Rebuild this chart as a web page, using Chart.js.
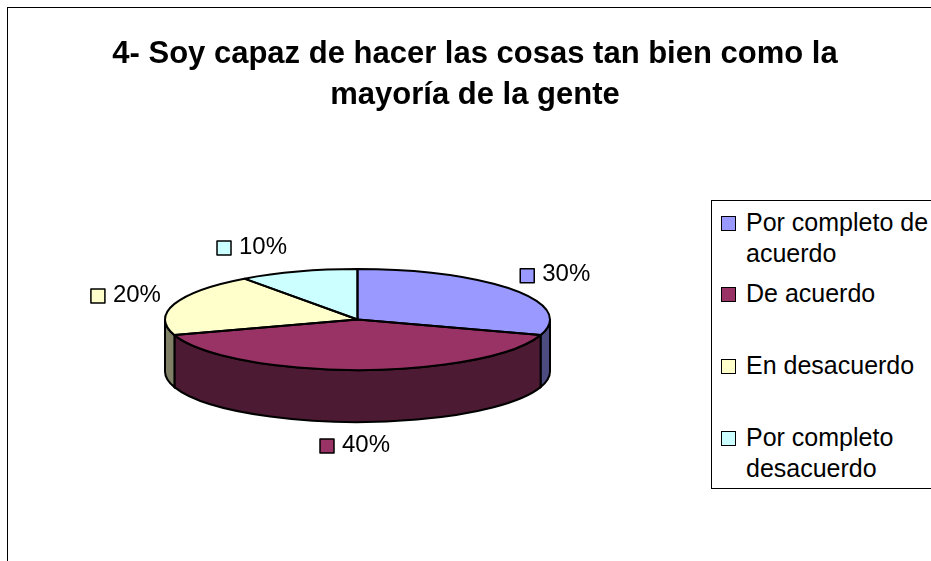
<!DOCTYPE html>
<html lang="es">
<head>
<meta charset="utf-8">
<title>4- Soy capaz de hacer las cosas tan bien como la mayoría de la gente</title>
<script src="https://cdn.jsdelivr.net/npm/chart.js@4"></script>
<style>
  html, body { margin: 0; background: #fff; overflow: hidden; }
  #wrap { position: relative; width: 931px; height: 561px; font-family: "Liberation Sans", Arial, sans-serif; color: #000; overflow: hidden; }
  #frame { position: absolute; left: 7px; top: 7px; width: 1000px; height: 700px; border: 1.5px solid #000; }
  #chart { position: absolute; left: 0; top: 0; }
  #title { position: absolute; left: 25px; width: 900px; top: 32px; text-align: center; font-size: 31px; font-weight: bold; line-height: 41px; }
  #legend { position: absolute; left: 711px; top: 200px; width: 240px; height: 287px; border: 1.5px solid #000; background: #fff; }
  .item { position: absolute; left: 34px; font-size: 25px; line-height: 31px; white-space: nowrap; }
  .sw { position: absolute; left: -25px; top: 9px; width: 14.5px; height: 14.5px; box-sizing: border-box; border: 1.5px solid #000; }
</style>
</head>
<body>
<div id="wrap">
  <div id="frame"></div>
  <canvas id="chart" width="931" height="561"></canvas>
  <div id="title">4- Soy capaz de hacer las cosas tan bien como la<br>mayoría de la gente</div>
  <div id="legend"></div>
</div>
<script>
const categories = ['Por completo de acuerdo', 'De acuerdo', 'En desacuerdo', 'Por completo desacuerdo'];
const legendLines = [['Por completo de', 'acuerdo'], ['De acuerdo'], ['En desacuerdo'], ['Por completo', 'desacuerdo']];
const values = [30, 40, 20, 10];
const colors = ['#9999ff', '#993366', '#ffffcc', '#ccffff'];
const sideColors = ['#4c4c80', '#4d1a33', '#808066', '#668080'];

const FLAT = 50.5 / 192.5;
const DEPTH = 52;
// label box offset from the rim point of each slice
const labelOffsets = [[7, -14], [-37.5, 24], [-83.5, -8], [-81, -23.5]];

// legend is plain html because of the wrapped names
const legendTops = [206, 277, 349, 421];
const legendEl = document.getElementById('legend');
legendLines.forEach((lines, i) => {
  const el = document.createElement('div');
  el.className = 'item';
  el.style.top = (legendTops[i] - 200) + 'px';
  el.innerHTML = `<span class="sw" style="background:${colors[i]}"></span>` + lines.join('<br>');
  legendEl.appendChild(el);
});

const pie3d = {
  id: 'pie3d',
  beforeDatasetsDraw(chart) {
    const ctx = chart.ctx;
    const arcs = chart.getDatasetMeta(0).data;
    ctx.save();
    ctx.strokeStyle = '#000';
    ctx.lineWidth = 2;
    arcs.forEach((arc, i) => {
      const { x, y, startAngle, endAngle, outerRadius } = arc.getProps(['x', 'y', 'startAngle', 'endAngle', 'outerRadius'], true);
      const a = Math.max(startAngle, 0);
      const b = Math.min(endAngle, Math.PI);
      if (b <= a) return;
      ctx.beginPath();
      ctx.ellipse(x, y, outerRadius, outerRadius * FLAT, 0, a, b);
      ctx.ellipse(x, y + DEPTH, outerRadius, outerRadius * FLAT, 0, b, a, true);
      ctx.closePath();
      ctx.fillStyle = sideColors[i];
      ctx.fill();
      ctx.stroke();
    });
    ctx.restore();
    // squash the round pie into the tilted top face
    const c = arcs[0];
    ctx.save();
    ctx.translate(c.x, c.y);
    ctx.scale(1, FLAT);
    ctx.translate(-c.x, -c.y);
  },
  afterDatasetsDraw(chart) {
    const ctx = chart.ctx;
    ctx.restore();
    const arcs = chart.getDatasetMeta(0).data;
    ctx.save();
    ctx.strokeStyle = '#000';
    ctx.lineJoin = 'round';
    arcs.forEach((arc, i) => {
      const { x, y, startAngle, endAngle, outerRadius } = arc.getProps(['x', 'y', 'startAngle', 'endAngle', 'outerRadius'], true);
      const ry = outerRadius * FLAT;
      ctx.lineWidth = 2;
      ctx.beginPath();
      ctx.moveTo(x, y);
      ctx.ellipse(x, y, outerRadius, ry, 0, startAngle, endAngle);
      ctx.closePath();
      ctx.stroke();

      // percent label with its small colour key
      const mid = (startAngle + endAngle) / 2;
      const lx = x + Math.cos(mid) * outerRadius + labelOffsets[i][0];
      let ly = y + Math.sin(mid) * ry + labelOffsets[i][1];
      if (Math.sin(mid) > 0) ly += DEPTH;
      ctx.fillStyle = colors[i];
      ctx.lineWidth = 1.5;
      ctx.fillRect(lx, ly - 7, 14, 14);
      ctx.strokeRect(lx, ly - 7, 14, 14);
      ctx.fillStyle = '#000';
      ctx.font = '24px "Liberation Sans", Arial, sans-serif';
      ctx.textBaseline = 'middle';
      ctx.textAlign = 'left';
      ctx.fillText(values[i] + '%', lx + 22, ly - 1);
    });
    ctx.restore();
  }
};

new Chart(document.getElementById('chart'), {
  type: 'pie',
  data: {
    labels: categories,
    datasets: [{ data: values, backgroundColor: colors, borderWidth: 0 }]
  },
  options: {
    responsive: false,
    animation: false,
    events: [],
    layout: { padding: { left: 165, right: 381, top: 127, bottom: 49 } },
    plugins: { legend: { display: false }, tooltip: { enabled: false } }
  },
  plugins: [pie3d]
});
</script>
</body>
</html>
